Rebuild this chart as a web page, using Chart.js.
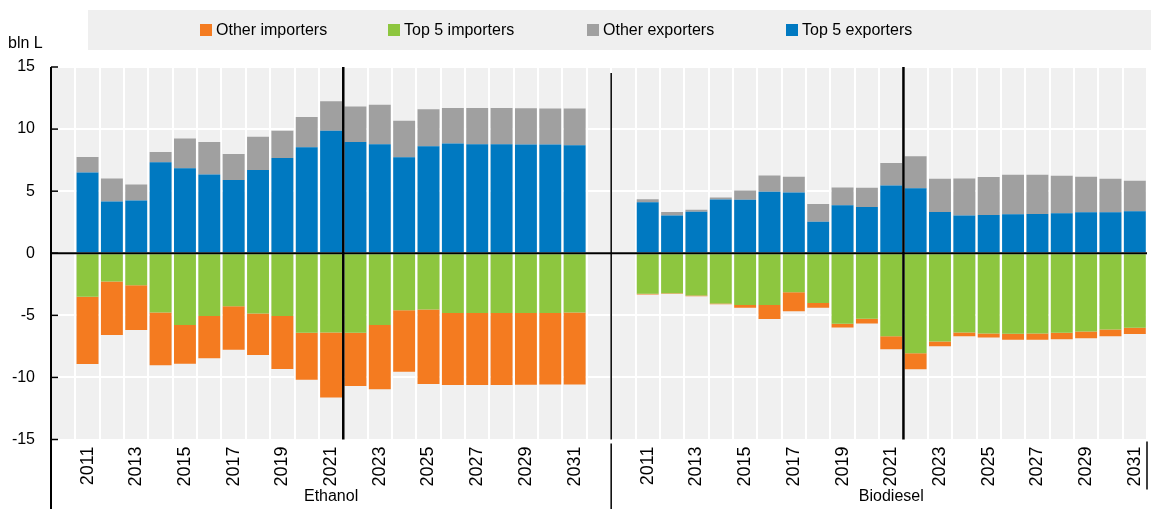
<!DOCTYPE html>
<html>
<head>
<meta charset="utf-8">
<script src="https://cdn.jsdelivr.net/npm/chart.js@4.4.1/dist/chart.umd.min.js"></script>
<style>
  html, body { margin: 0; padding: 0; background: #fff; }
  #wrap { position: relative; width: 1151px; height: 509px; font-family: 'Liberation Sans', Arial, sans-serif; }
  #c { position: absolute; left: 0; top: 0; }
  #legend { position: absolute; left: 88px; top: 10px; width: 1063px; height: 40px; background: #efefef; }
  .item { position: absolute; top: 0; height: 40px; line-height: 40px; font-size: 16px; color: #000; white-space: nowrap; }
  .sw { display: inline-block; width: 12px; height: 12px; margin-right: 4px; vertical-align: -1px; }
  #unit { position: absolute; left: 8px; top: 34px; font-size: 16px; color: #000; }
</style>
</head>
<body>
<div id="wrap">
  <canvas id="c" width="1151" height="509"></canvas>
  <div id="legend"></div>
  <div id="unit">bln L</div>
</div>
<script>
// ---- data ----
const years = ['2011','2012','2013','2014','2015','2016','2017','2018','2019','2020','2021','2022','2023','2024','2025','2026','2027','2028','2029','2030','2031'];
const groups = ['Ethanol', 'Biodiesel'];
const yTicks = [-15, -10, -5, 0, 5, 10, 15];

const ethanolTop5Exporters  = [6.51, 4.16, 4.24, 7.32, 6.84, 6.35, 5.89, 6.70, 7.68, 8.54, 9.86, 8.95, 8.78, 7.73, 8.62, 8.84, 8.78, 8.78, 8.76, 8.76, 8.70];
const ethanolOtherExporters = [1.25, 1.87, 1.30, 0.84, 2.40, 2.60, 2.11, 2.68, 2.18, 2.43, 2.38, 2.86, 3.17, 2.95, 2.97, 2.86, 2.92, 2.92, 2.92, 2.89, 2.95];
const ethanolTop5Importers  = [-3.51, -2.27, -2.57, -4.78, -5.78, -5.05, -4.27, -4.86, -5.05, -6.41, -6.38, -6.41, -5.78, -4.59, -4.54, -4.81, -4.81, -4.81, -4.81, -4.81, -4.78];
const ethanolOtherImporters = [-5.41, -4.32, -3.62, -4.25, -3.11, -3.41, -3.51, -3.33, -4.27, -3.78, -5.24, -4.29, -5.17, -4.95, -6.00, -5.81, -5.81, -5.81, -5.78, -5.76, -5.79];

const biodieselTop5Exporters  = [4.11, 3.05, 3.35, 4.32, 4.30, 4.95, 4.89, 2.54, 3.86, 3.73, 5.46, 5.24, 3.32, 3.05, 3.08, 3.14, 3.16, 3.22, 3.30, 3.30, 3.38];
const biodieselOtherExporters = [0.24, 0.27, 0.16, 0.17, 0.75, 1.32, 1.27, 1.43, 1.44, 1.54, 1.81, 2.57, 2.68, 2.98, 3.06, 3.18, 3.16, 3.02, 2.86, 2.70, 2.46];
const biodieselTop5Importers  = [-3.27, -3.22, -3.41, -4.05, -4.16, -4.16, -3.14, -4.00, -5.68, -5.27, -6.68, -8.05, -7.11, -6.38, -6.46, -6.49, -6.46, -6.41, -6.30, -6.14, -6.00];
const biodieselOtherImporters = [-0.05, -0.05, -0.05, -0.06, -0.22, -1.14, -1.54, -0.38, -0.29, -0.38, -1.05, -1.30, -0.38, -0.30, -0.32, -0.48, -0.51, -0.51, -0.54, -0.54, -0.51];

// ---- build category axis: blank, ethanol years, blank, blank, biodiesel years ----
const labels = [''].concat(years, ['', ''], years);
function combine(a, b) { return [null].concat(a, [null, null], b); }

const COLORS = { orange: '#F47B20', green: '#8DC63F', gray: '#A0A0A0', blue: '#0079C1' };

// stacking order: first dataset sits next to the axis
const datasets = [
  { label: 'Top 5 exporters', data: combine(ethanolTop5Exporters, biodieselTop5Exporters), backgroundColor: COLORS.blue },
  { label: 'Other exporters', data: combine(ethanolOtherExporters, biodieselOtherExporters), backgroundColor: COLORS.gray },
  { label: 'Top 5 importers', data: combine(ethanolTop5Importers, biodieselTop5Importers), backgroundColor: COLORS.green },
  { label: 'Other importers', data: combine(ethanolOtherImporters, biodieselOtherImporters), backgroundColor: COLORS.orange }
];

// ---- HTML legend (order as in reference) ----
const legendOrder = [
  { label: 'Other importers', color: COLORS.orange, left: 112 },
  { label: 'Top 5 importers', color: COLORS.green, left: 300 },
  { label: 'Other exporters', color: COLORS.gray, left: 499 },
  { label: 'Top 5 exporters', color: COLORS.blue, left: 698 }
];
const legendEl = document.getElementById('legend');
legendOrder.forEach(it => {
  const d = document.createElement('div');
  d.className = 'item';
  d.style.left = it.left + 'px';
  d.innerHTML = '<span class="sw" style="background:' + it.color + '"></span>' + it.label;
  legendEl.appendChild(d);
});

const decor = {
  id: 'decor',
  beforeDraw(chart) {
    const { ctx, chartArea: a } = chart;
    ctx.save();
    ctx.fillStyle = '#F0F0F0';
    ctx.fillRect(a.left, a.top, a.right - a.left, a.bottom - a.top);
    ctx.restore();
  },
  afterDatasetsDraw(chart) {
    const { ctx, chartArea: a, scales: { x, y } } = chart;
    const line = (x1, y1, x2, y2) => { ctx.beginPath(); ctx.moveTo(x1, y1); ctx.lineTo(x2, y2); ctx.stroke(); };
    ctx.save();
    ctx.strokeStyle = '#000';
    // zero line
    ctx.lineWidth = 2;
    const y0 = y.getPixelForValue(0);
    line(a.left, y0, a.right, y0);
    // y axis line
    line(a.left, a.top, a.left, chart.height);
    // tick marks
    ctx.lineWidth = 1.5;
    yTicks.forEach(v => { const py = y.getPixelForValue(v); line(a.left, py, a.left + 7, py); });
    // projection lines between 2021 and 2022
    ctx.lineWidth = 2.5;
    const n = years.length;
    [10 + 1, 10 + 1 + n + 2].forEach(idx => {
      const xb = (x.getPixelForValue(idx) + x.getPixelForValue(idx + 1)) / 2;
      line(xb, a.top, xb, a.bottom);
    });
    // group separator
    ctx.lineWidth = 1.5;
    const xs = (x.getPixelForValue(n + 1) + x.getPixelForValue(n + 2)) / 2;
    line(xs, a.top + 6, xs, a.bottom);
    line(xs, a.bottom + 4, xs, chart.height);
    // right end of the category axis
    line(a.right, a.bottom + 2, a.right, a.bottom + 50);
    // group labels
    ctx.fillStyle = '#000';
    ctx.font = "16px 'Liberation Sans', Arial, sans-serif";
    ctx.textAlign = 'center';
    ctx.textBaseline = 'middle';
    const cE = (x.getPixelForValue(1) + x.getPixelForValue(n)) / 2;
    const cB = (x.getPixelForValue(n + 3) + x.getPixelForValue(2 * n + 2)) / 2;
    ctx.fillText(groups[0], cE, 497);
    ctx.fillText(groups[1], cB, 497);
    ctx.restore();
  }
};

Chart.defaults.font.family = "'Liberation Sans', Arial, sans-serif";
Chart.defaults.font.size = 16;
Chart.defaults.color = '#000';

new Chart(document.getElementById('c'), {
  type: 'bar',
  data: { labels, datasets },
  options: {
    responsive: false,
    animation: false,
    layout: { padding: { top: 67, right: 4, left: 0, bottom: 0 } },
    datasets: { bar: { categoryPercentage: 1.0, barPercentage: 0.9, borderWidth: 0 } },
    plugins: { legend: { display: false }, tooltip: { enabled: false } },
    scales: {
      x: {
        stacked: true,
        border: { display: false },
        grid: { color: '#FFFFFF', lineWidth: 2, drawTicks: false, offset: true },
        ticks: {
          autoSkip: false, maxRotation: 90, minRotation: 90, padding: 7,
          font: { size: 18 },
          callback: function (val) {
            const l = this.getLabelForValue(val);
            return (l && (+l) % 2 === 1) ? l : '';
          }
        },
        afterFit(scale) { scale.height = 69.5; scale.paddingLeft = 0; scale.paddingRight = 0; }
      },
      y: {
        stacked: true,
        min: -15, max: 15,
        border: { display: false },
        grid: { color: '#FFFFFF', lineWidth: 2, drawTicks: false },
        ticks: { stepSize: 5, padding: 16, font: { size: 16 } },
        afterFit(scale) { scale.width = 51; scale.paddingTop = 0; scale.paddingBottom = 0; }
      }
    }
  },
  plugins: [decor]
});
</script>
</body>
</html>
